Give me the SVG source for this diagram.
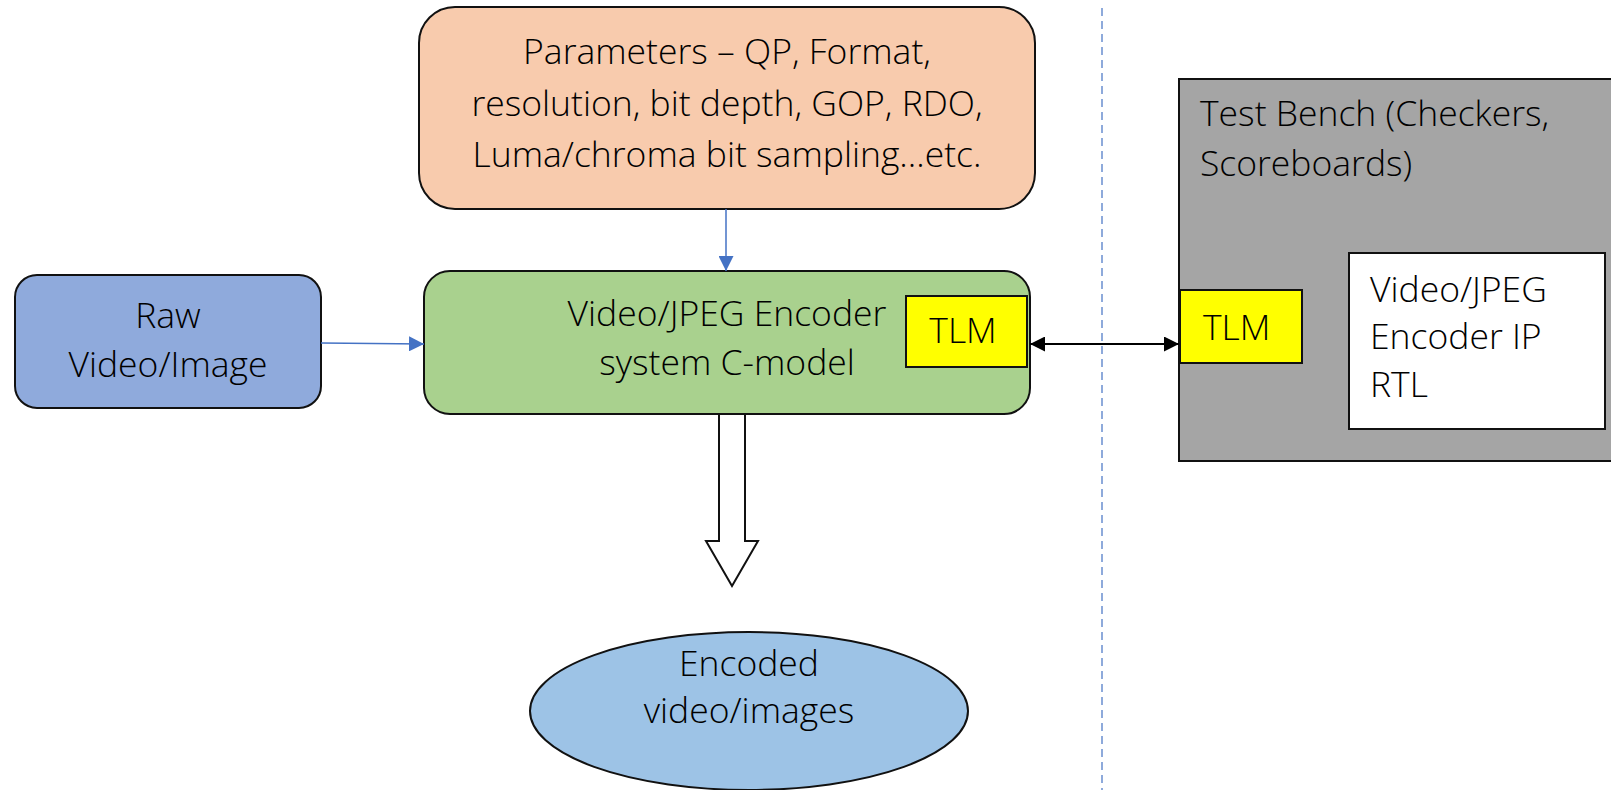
<svg xmlns="http://www.w3.org/2000/svg" width="1611" height="790" viewBox="0 0 1611 790">
  <defs>
    <style>
      .lbl { font-family: "Open Sans", "Noto Sans", "Liberation Sans", sans-serif; font-weight: 300; font-size: 35.5px; fill: #000; }
      .mid { text-anchor: middle; }
      .box { stroke: #111; stroke-width: 2; }
      .blue { stroke: #4472C4; stroke-width: 1.5; fill: none; }
      .blk { stroke: #000; stroke-width: 2; fill: none; }
    </style>
    <marker id="arrBlue" viewBox="0 0 10 10" refX="10" refY="5" markerWidth="15" markerHeight="15" orient="auto" markerUnits="userSpaceOnUse">
      <path d="M0,0 L10,5 L0,10 z" fill="#4472C4"/>
    </marker>
    <marker id="arrBlk" viewBox="0 0 10 10" refX="10" refY="5" markerWidth="15" markerHeight="15" orient="auto-start-reverse" markerUnits="userSpaceOnUse">
      <path d="M0,0 L10,5 L0,10 z" fill="#000"/>
    </marker>
  </defs>

  <!-- divider between model and test bench -->
  <line x1="1102" y1="8" x2="1102" y2="790" stroke="#4472C4" stroke-width="1.2" stroke-dasharray="8,5"/>

  <g id="params">
    <rect class="box" x="419" y="7" width="616" height="202" rx="36" fill="#F8CBAD"/>
    <text class="lbl mid" x="727" y="64">Parameters – QP, Format,</text>
    <text class="lbl mid" x="727" y="116">resolution, bit depth, GOP, RDO,</text>
    <text class="lbl mid" x="727" y="167">Luma/chroma bit sampling…etc.</text>
  </g>

  <g id="raw">
    <rect class="box" x="15" y="275" width="306" height="133" rx="22" fill="#8FAADC"/>
    <text class="lbl mid" x="168" y="328">Raw</text>
    <text class="lbl mid" x="168" y="377">Video/Image</text>
  </g>

  <g id="cmodel">
    <rect class="box" x="424" y="271" width="606" height="143" rx="26" fill="#A9D18E"/>
    <text class="lbl mid" x="727" y="326">Video/JPEG Encoder</text>
    <text class="lbl mid" x="727" y="375">system C-model</text>
  </g>

  <g id="tlm-model">
    <rect class="box" x="906" y="296" width="121" height="71" fill="#FFFF00"/>
    <text class="lbl mid" x="963" y="343">TLM</text>
  </g>

  <g id="testbench">
    <rect class="box" x="1179" y="79" width="440" height="382" fill="#A5A5A5"/>
    <text class="lbl" x="1200" y="126">Test Bench (Checkers,</text>
    <text class="lbl" x="1200" y="176">Scoreboards)</text>
  </g>

  <g id="tlm-bench">
    <rect class="box" x="1180" y="290" width="122" height="73" fill="#FFFF00"/>
    <text class="lbl" x="1203" y="340">TLM</text>
  </g>

  <g id="rtl">
    <rect class="box" x="1349" y="253" width="256" height="176" fill="#FFFFFF"/>
    <text class="lbl" x="1370" y="302">Video/JPEG</text>
    <text class="lbl" x="1370" y="349">Encoder IP</text>
    <text class="lbl" x="1370" y="397">RTL</text>
  </g>

  <g id="encoded">
    <ellipse class="box" cx="749" cy="711" rx="219" ry="79" fill="#9DC3E6"/>
    <text class="lbl mid" x="749" y="676">Encoded</text>
    <text class="lbl mid" x="749" y="723">video/images</text>
  </g>

  <g id="connectors">
    <line class="blue" x1="726" y1="209" x2="726" y2="271" marker-end="url(#arrBlue)"/>
    <line class="blue" x1="321" y1="343" x2="424" y2="344" marker-end="url(#arrBlue)"/>
    <line class="blk" x1="1030" y1="344" x2="1179" y2="344" marker-start="url(#arrBlk)" marker-end="url(#arrBlk)"/>
    <path d="M719,414 L745,414 L745,541 L758,541 L732,586 L706,541 L719,541 Z" fill="#FFFFFF" stroke="#111" stroke-width="2"/>
  </g>
</svg>
